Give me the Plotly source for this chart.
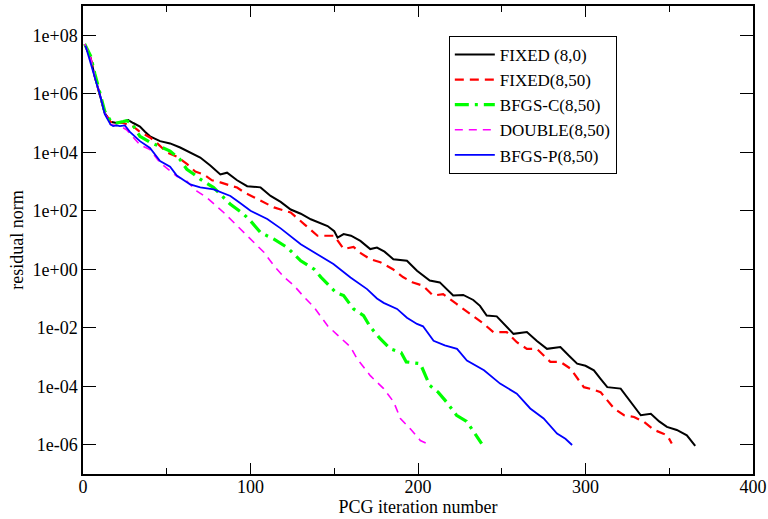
import plotly.graph_objects as go

# ---- data ----
fixed_0_x = [1, 4.5, 7, 10.4, 13, 16.4, 20, 24, 27, 30, 34, 37, 40, 46, 52, 58, 64, 70, 76, 82, 86, 92, 98, 106,
             112, 118, 124, 130, 136, 146, 150, 152, 155.6, 160, 165.6, 171.5, 175.5, 180, 185.3, 193.4, 199.4,
             207, 213, 221, 227, 233, 237, 241, 247, 252, 257, 265, 271, 277, 285, 290, 295, 300, 305, 309, 313,
             321, 327, 333, 339, 344, 348.6, 354.5, 360.5, 363, 365.5]
fixed_0_y = [5.0e7, 1.7e7, 4.0e6, 7.1e5, 2.2e5, 1.1e5, 1.0e5, 1.1e5, 1.25e5, 1.0e5, 7.6e4, 5.0e4, 3.5e4, 2.4e4,
             2.0e4, 1.45e4, 1.0e4, 6.6e3, 3.5e3, 1.75e3, 2.0e3, 1.1e3, 6.9e2, 6.3e2, 3.2e2, 2.0e2, 1.1e2, 79,
             51, 30, 20, 12, 16, 14, 9.3, 4.9, 5.5, 4.0, 2.2, 1.95, 0.89, 0.41, 0.355, 0.126, 0.132, 0.089,
             0.056, 0.026, 0.0245, 0.0126, 0.0062, 0.0071, 0.0035, 0.0019, 0.0022, 0.00112, 5.9e-4, 5.0e-4,
             3.5e-4, 1.8e-4, 9.3e-5, 8.3e-5, 2.8e-5, 1.02e-5, 1.15e-5, 6.3e-6, 4.1e-6, 3.2e-6, 2.1e-6,
             1.4e-6, 9.1e-7]

fixed_50_x = [1, 4.5, 7, 10.4, 13, 16.4, 20, 24, 30, 34, 40, 44, 50, 56, 62, 67, 72, 77, 82, 92, 97, 102, 108,
              114, 118, 124, 132, 140, 150, 155.6, 161.5, 166, 171.5, 177.5, 185, 191, 197, 203, 209, 215, 223,
              231, 239, 245, 253, 259, 265, 271, 279, 285, 291, 299, 304, 309, 317, 323, 329, 335, 341, 346.5,
              349, 351.5]
fixed_50_y = [5.0e7, 1.7e7, 4.0e6, 7.1e5, 2.2e5, 1.1e5, 1.0e5, 1.0e5, 7.6e4, 5.0e4, 3.2e4, 2.1e4, 1.0e4, 7.1e3,
              4.0e3, 2.2e3, 1.75e3, 1.1e3, 9.3e2, 6.2e2, 4.0e2, 2.9e2, 2.0e2, 1.3e2, 1.1e2, 87, 35, 14, 14,
              4.9, 5.8, 3.5, 2.2, 1.74, 1.0, 0.54, 0.35, 0.275, 0.126, 0.141, 0.065, 0.030, 0.014, 0.0071,
              0.0071, 0.0032, 0.0019, 0.0019, 6.8e-4, 6.8e-4, 4.0e-4, 9.3e-5, 7.9e-5, 6.3e-5, 1.74e-5,
              1.02e-5, 8.9e-6, 6.0e-6, 3.2e-6, 2.4e-6, 2.0e-6, 1.1e-6]

bfgs_c_x = [1, 4.5, 7, 10.4, 13, 16.4, 20, 24, 26, 29, 34, 40, 46, 52, 58, 62, 66, 70, 78, 83, 88, 96, 100, 106,
            114, 122, 130, 138, 142, 151, 155.6, 161.5, 167.5, 171.5, 177, 183.5, 190, 193, 201.4, 207, 212,
            217, 223, 229, 235, 238]
bfgs_c_y = [5.0e7, 2.0e7, 5.0e6, 7.9e5, 2.5e5, 1.2e5, 1.0e5, 1.12e5, 1.2e5, 1.0e5, 3.5e4, 2.2e4, 1.6e4, 1.1e4,
            5.6e3, 2.6e3, 1.8e3, 1.2e3, 6.2e2, 3.2e2, 1.66e2, 76, 45, 18, 10.7, 5.5, 1.95, 1.0, 0.54, 0.16,
            0.126, 0.044, 0.026, 0.0107, 0.0045, 0.0019, 0.0014, 6.8e-4, 5.9e-4, 1.07e-4, 6.3e-5, 2.9e-5,
            1.02e-5, 6.3e-6, 2.1e-6, 1.1e-6]

double_x = [1, 4.5, 7, 10.4, 13, 16.4, 22.4, 26, 34, 40, 46, 56, 62, 68, 74, 84, 92, 100, 108, 114, 120, 126,
            132, 138, 146, 152, 159.7, 163.6, 171.5, 179.5, 185.5, 189.5, 195.4, 201.4, 205.4]
double_y = [5.0e7, 1.7e7, 4.0e6, 7.1e5, 2.2e5, 8.9e4, 7.8e4, 5.9e4, 1.8e4, 1.23e4, 4.4e3, 1.5e3, 1.02e3, 4.7e2,
            2.8e2, 87, 30, 10.7, 3.8, 1.32, 0.54, 0.275, 0.112, 0.05, 0.0117, 0.0056, 0.0022, 8.7e-4, 2.3e-4,
            8.3e-5, 2.9e-5, 7.9e-6, 3.5e-6, 1.4e-6, 1.1e-6]

bfgs_p_x = [1.5, 4.5, 7, 10.4, 13, 16.4, 18, 20, 22, 25, 28, 34, 40, 46, 52, 56, 64, 70, 78, 88, 94, 100, 110,
            118, 130, 140, 149.5, 159.7, 169.6, 175.5, 179.5, 187.5, 193.4, 199.4, 203, 209.3, 216, 223.3,
            229.2, 239.4, 249, 259, 267, 275, 283, 288, 292]
bfgs_p_y = [4.4e7, 1.15e7, 3.2e6, 8.1e5, 2.0e5, 8.9e4, 7.8e4, 8.3e4, 7.8e4, 8.3e4, 5.0e4, 2.4e4, 1.4e4, 5.0e3,
            3.2e3, 1.6e3, 7.9e2, 6.3e2, 5.4e2, 3.2e2, 1.8e2, 1.0e2, 52, 25, 7.2, 3.3, 1.5, 0.52, 0.21, 0.1,
            0.071, 0.044, 0.022, 0.0135, 0.0112, 0.0036, 0.0025, 0.0019, 7.6e-4, 3.5e-4, 1.23e-4, 5.6e-5,
            1.74e-5, 7.9e-6, 2.4e-6, 1.6e-6, 9.8e-7]

series_names = ["FIXED (8,0)", "FIXED(8,50)", "BFGS-C(8,50)", "DOUBLE(8,50)", "BFGS-P(8,50)"]
y_tick_vals = [1e-6, 1e-4, 1e-2, 1e0, 1e2, 1e4, 1e6, 1e8]
y_tick_text = ["1e-06", "1e-04", "1e-02", "1e+00", "1e+02", "1e+04", "1e+06", "1e+08"]
x_tick_vals = [0, 100, 200, 300, 400]

FONT = "Liberation Serif, Times New Roman, serif"

fig = go.Figure()
styles = [
    dict(color="black", width=2.0, dash="solid"),
    dict(color="#ff0000", width=2.2, dash="9px,6px"),
    dict(color="#00ff00", width=3.2, dash="14px,6px,3px,6px"),
    dict(color="#ff00ff", width=1.6, dash="8px,6px"),
    dict(color="#0000ff", width=1.8, dash="solid"),
]
data = [(fixed_0_x, fixed_0_y), (fixed_50_x, fixed_50_y), (bfgs_c_x, bfgs_c_y),
        (double_x, double_y), (bfgs_p_x, bfgs_p_y)]
for name, (xs, ys), st in zip(series_names, data, styles):
    fig.add_trace(go.Scatter(x=xs, y=ys, mode="lines", name=name, line=st))

axis_common = dict(
    showgrid=False, zeroline=False, showline=True, linecolor="black", linewidth=1.5,
    mirror="allticks", ticks="inside", tickcolor="black", tickwidth=1.2, automargin=False,
    tickfont=dict(family=FONT, size=18, color="black"),
)
fig.update_xaxes(
    range=[0, 400], tickvals=x_tick_vals, ticklen=11, ticklabelstandoff=-4,
    minor=dict(dtick=50, tick0=0, ticks="inside", ticklen=6, tickcolor="black", tickwidth=1.2),
    title=dict(text="PCG iteration number", font=dict(family=FONT, size=18, color="black"), standoff=2),
    **axis_common,
)
fig.update_yaxes(
    type="log", range=[-7, 9], tickvals=y_tick_vals, ticktext=y_tick_text, ticklen=13,
    title=dict(text="residual norm", font=dict(family=FONT, size=18, color="black"), standoff=4),
    **axis_common,
)
fig.update_layout(
    width=768, height=519,
    margin=dict(l=83, r=15, t=6, b=45),
    paper_bgcolor="white", plot_bgcolor="white",
    font=dict(family=FONT, size=18, color="black"),
    legend=dict(
        x=0.546, y=0.936, xanchor="left", yanchor="top",
        bgcolor="white", bordercolor="black", borderwidth=1,
        font=dict(family=FONT, size=17, color="black"),
        itemwidth=40, tracegroupgap=0,
    ),
    showlegend=True,
)
fig.write_html("out.html", config={"displayModeBar": False},
               post_script="document.body.style.margin='0';document.body.style.padding='0';")
